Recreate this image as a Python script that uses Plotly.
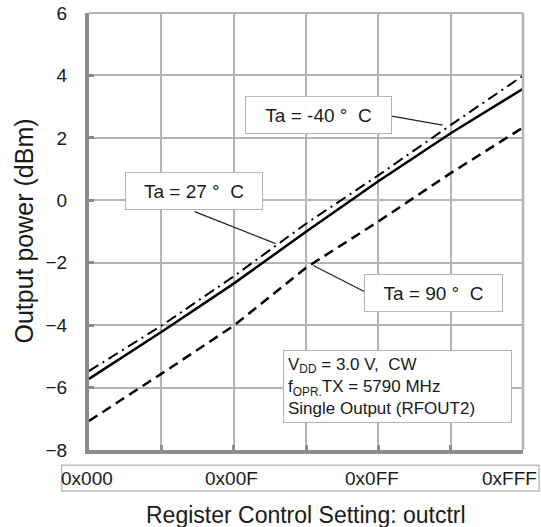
import plotly.graph_objects as go

# ---- data ----
x_steps = [0, 1, 2, 3, 4, 5, 6]
x_tick_vals = [0, 2, 4, 6]
x_tick_text = ["0x000", "0x00F", "0x0FF", "0xFFF"]
y_tick_vals = [-8, -6, -4, -2, 0, 2, 4, 6]

p_m40 = [-5.47, -4.02, -2.44, -0.75, 0.80, 2.41, 3.99]   # Ta = -40 C (dash-dot)
p_27 = [-5.72, -4.22, -2.67, -1.01, 0.61, 2.15, 3.57]    # Ta = 27 C (solid)
p_90 = [-7.07, -5.56, -4.02, -2.16, -0.68, 0.87, 2.33]   # Ta = 90 C (dashed)

FONT = "Liberation Sans, Arial, sans-serif"
GRID = "#b4b4b4"
AXIS = "#8c8c8c"
TXT = "#1a1a1a"

fig = go.Figure()
fig.add_trace(go.Scatter(x=x_steps, y=p_m40, mode="lines",
                         line=dict(color="black", width=2, dash="11px,5px,2px,5px"),
                         showlegend=False))
fig.add_trace(go.Scatter(x=x_steps, y=p_27, mode="lines",
                         line=dict(color="black", width=2.5),
                         showlegend=False))
fig.add_trace(go.Scatter(x=x_steps, y=p_90, mode="lines",
                         line=dict(color="black", width=2.5, dash="10px,6px"),
                         showlegend=False))

annotations = []
# x tick labels (boxed row below the axis)
anchors = ["center", "center", "center", "right"]
shifts = [-2, -2, -6, 16]
for v, t, a, s in zip(x_tick_vals, x_tick_text, anchors, shifts):
    annotations.append(dict(x=v, y=-0.065, xref="x", yref="paper", text=t,
                            showarrow=False, xanchor=a, yanchor="middle", xshift=s,
                            font=dict(family=FONT, size=19, color=TXT)))

box = dict(bgcolor="white", bordercolor="#b4b4b4", borderwidth=1, borderpad=4,
           showarrow=False, font=dict(family=FONT, size=19, color=TXT))
annotations.append(dict(x=3.17, y=2.73, text="Ta = -40 °\u00a0 C", width=137, height=28, **box))
annotations.append(dict(x=1.45, y=0.29, text="Ta = 27 °\u00a0 C", width=128, height=28, **box))
annotations.append(dict(x=4.76, y=-2.97, text="Ta = 90 °\u00a0 C", width=129, height=28, **box))
info = dict(box)
info["font"] = dict(family=FONT, size=17, color=TXT)
annotations.append(dict(x=2.68, y=-5.98, xanchor="left", align="left",
                        text="V<sub>DD</sub> = 3.0 V,\u00a0 CW<br>f<sub>OPR.</sub>TX = 5790 MHz<br>Single Output (RFOUT2)",
                        width=219, height=63, **info))

# axis titles
annotations.append(dict(x=0.5, y=-0.148, xref="paper", yref="paper", text="Register Control Setting: outctrl",
                        showarrow=False, yanchor="middle",
                        font=dict(family=FONT, size=23, color=TXT)))
annotations.append(dict(x=-0.152, y=0.5, xref="paper", yref="paper", text="Output power (dBm)",
                        showarrow=False, textangle=-90, xanchor="center",
                        font=dict(family=FONT, size=25, color=TXT)))

# leader lines from the label boxes to the curves (anchored at data points, offsets in pixels)
leaders = [(4.89, 2.41, -51, 9), (2.58, -1.39, -81, 32), (3.10, -2.09, 51, -26)]
shapes = []
for lx, ly, dx, dy in leaders:
    shapes.append(dict(type="line", xref="x", yref="y",
                       xsizemode="pixel", ysizemode="pixel",
                       xanchor=lx, yanchor=ly, x0=0, x1=dx, y0=0, y1=dy,
                       line=dict(color="#222", width=1.3), layer="above"))

shapes += [
    # box around x tick labels
    dict(type="rect", xref="paper", yref="paper", x0=-0.063, x1=1.037, y0=-0.094, y1=-0.035,
         line=dict(color="#bdbdbd", width=1.5), fillcolor="rgba(0,0,0,0)", layer="above"),
    # plot frame top/right
    dict(type="line", xref="paper", yref="paper", x0=0, x1=1, y0=1, y1=1,
         line=dict(color=GRID, width=2)),
    dict(type="line", xref="paper", yref="paper", x0=1, x1=1, y0=0, y1=1,
         line=dict(color=GRID, width=2.5)),
]

fig.update_layout(
    width=541, height=527,
    margin=dict(l=89, r=18, t=13, b=77, autoexpand=False),
    paper_bgcolor="white", plot_bgcolor="white",
    annotations=annotations, shapes=shapes,
    xaxis=dict(range=[0, 6], tickvals=x_steps, showticklabels=False,
               showgrid=True, gridcolor=GRID, gridwidth=1.5,
               showline=True, linecolor=AXIS, linewidth=4,
               ticks="inside", ticklen=5, tickwidth=3, tickcolor=AXIS,
               zeroline=False, fixedrange=True, automargin=False),
    yaxis=dict(range=[-8, 6], tickvals=y_tick_vals,
               showgrid=True, gridcolor=GRID, gridwidth=1.5,
               showline=True, linecolor=AXIS, linewidth=4,
               ticks="inside", ticklen=5, tickwidth=3, tickcolor=AXIS,
               ticklabelstandoff=14, ticklabeloverflow="allow",
               tickfont=dict(family=FONT, size=19, color=TXT),
               zeroline=False, fixedrange=True, automargin=False),
)

# remove the default 8px page margin so the figure fills the window exactly; hide the mode bar
fig.write_html("out.html", config={"displayModeBar": False},
               post_script="document.body.style.margin='0';")
